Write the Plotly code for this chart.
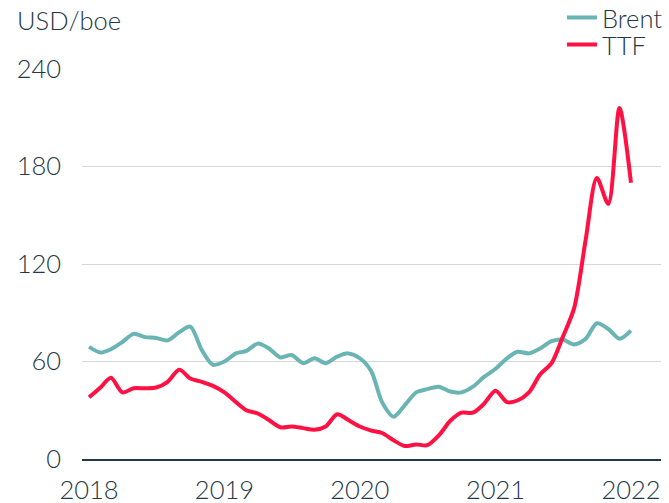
import plotly.graph_objects as go
import pandas as pd

dates = pd.date_range("2018-01-01", "2022-01-01", freq="MS")

brent = [69, 65.5, 67.5, 72, 77, 75, 74.5, 73, 78, 81.5, 67, 58,
         60, 65, 66.5, 71, 68, 62.5, 64, 59, 62, 59, 63, 65,
         62, 54, 35, 26, 33, 41, 43, 44.5, 41.5, 41, 44.5, 50.5,
         55.5, 62, 66, 65, 68, 72.5, 73.5, 70.5, 74, 83.5, 80, 74,
         79]

ttf = [38, 44, 50, 41, 43.5, 43.5, 44, 47.5, 55, 49.5, 47.5, 45,
       41, 35, 30, 28, 24, 19.5, 20, 19, 18, 20, 27.5, 24,
       20, 17.5, 16, 11.5, 8, 9, 8.5, 14.5, 23.5, 28.5, 28.5, 34,
       42, 35, 36, 41, 52, 59, 75, 93, 135, 173, 157, 216,
       170]

y_ticks = [0, 60, 120, 180, 240]
x_ticks = ["2018-01-01", "2019-01-01", "2020-01-01", "2021-01-01", "2022-01-01"]
x_labels = ["2018", "2019", "2020", "2021", "2022"]

TEXT = "#243746"
FONT = "Lato"
FS = 25.5

fig = go.Figure()
fig.add_trace(go.Scatter(x=dates, y=brent, name="Brent", mode="lines", legend="legend",
                         line=dict(color="#6BB4B4", width=4, shape="spline", smoothing=0.8)))
fig.add_trace(go.Scatter(x=dates, y=ttf, name="TTF", mode="lines", legend="legend2",
                         line=dict(color="#FF1243", width=4, shape="spline", smoothing=0.8)))

leg_common = dict(xanchor="left", yanchor="middle",
                  font=dict(size=FS, color=TEXT, family=FONT, weight=300),
                  bgcolor="rgba(0,0,0,0)", itemwidth=30)

fig.update_layout(
    width=669, height=503,
    margin=dict(l=82, r=8, t=69, b=44, autoexpand=False),
    paper_bgcolor="white", plot_bgcolor="white",
    font=dict(family=FONT, size=FS, color=TEXT, weight=300),
    showlegend=True,
    legend=dict(x=0.829, y=1.1308, **leg_common),
    legend2=dict(x=0.829, y=1.0615, **leg_common),
    xaxis=dict(range=["2017-12-13", "2022-03-23"], tickvals=x_ticks, ticktext=x_labels,
               showgrid=False, showline=True, linecolor=TEXT, linewidth=1.5,
               ticks="", ticklabelstandoff=8, zeroline=False,
               tickfont=dict(size=FS, color=TEXT, family=FONT, weight=300)),
    yaxis=dict(range=[0, 240], tickvals=y_ticks, showgrid=True, gridcolor="#D5D8DB",
               gridwidth=1.2, zeroline=False, showline=False, ticks="",
               ticklabelstandoff=20, tickfont=dict(size=FS, color=TEXT, family=FONT, weight=300)),
    annotations=[dict(text="USD/boe", xref="paper", yref="paper", x=-0.116, y=1.125,
                      xanchor="left", yanchor="middle", showarrow=False,
                      font=dict(size=FS, color=TEXT, family=FONT, weight=300))],
)

fig.write_html("out.html", config={"displayModeBar": False},
               post_script="document.body.style.margin='0';")
